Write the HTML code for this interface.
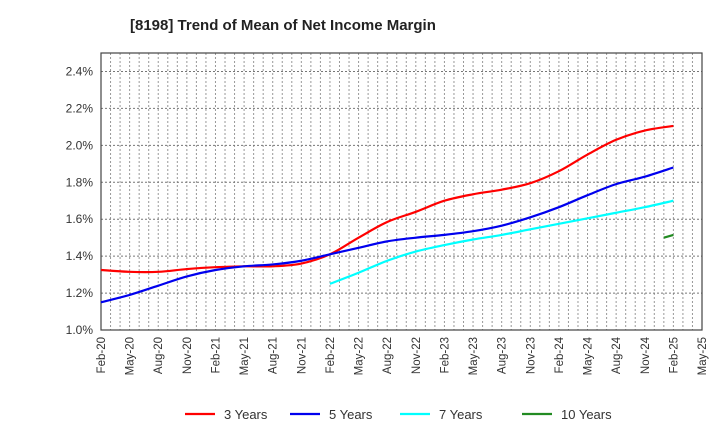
<!DOCTYPE html>
<html><head><meta charset="utf-8"><style>
body{margin:0;background:#fff;font-family:"Liberation Sans",sans-serif}
</style></head><body>
<svg id="c" width="720" height="440" xmlns="http://www.w3.org/2000/svg" font-family="Liberation Sans, sans-serif">
<text x="130" y="30" font-size="15" font-weight="bold" fill="#222">[8198]  Trend of Mean of Net Income Margin</text>
<g id="grid"></g><g id="axes"></g><g id="series"></g><g id="legend"></g>
</svg>
<script>
const xLabels=["Feb-20","May-20","Aug-20","Nov-20","Feb-21","May-21","Aug-21","Nov-21","Feb-22","May-22","Aug-22","Nov-22","Feb-23","May-23","Aug-23","Nov-23","Feb-24","May-24","Aug-24","Nov-24","Feb-25","May-25"];
const yTicks=[1.0,1.2,1.4,1.6,1.8,2.0,2.2,2.4];
const s3Months=[0,3,6,9,12,15,18,21,24,27,30,33,36,39,42,45,48,51,54,57,60];
const s3=[1.325,1.315,1.315,1.33,1.34,1.345,1.345,1.36,1.41,1.50,1.585,1.64,1.70,1.735,1.76,1.795,1.86,1.95,2.03,2.08,2.105];
const s5Months=[0,3,6,9,12,15,18,21,24,27,30,33,36,39,42,45,48,51,54,57,60];
const s5=[1.15,1.19,1.24,1.29,1.325,1.345,1.355,1.375,1.41,1.445,1.48,1.50,1.515,1.535,1.565,1.61,1.665,1.73,1.79,1.83,1.88];
const s7Months=[24,27,30,33,36,39,42,45,48,51,54,57,60];
const s7=[1.25,1.31,1.375,1.425,1.46,1.49,1.515,1.545,1.575,1.605,1.635,1.665,1.70];
const s10Months=[59,60];
const s10=[1.50,1.515];
const L=101,R=702,T=53,B=330,yMin=1.0,yMax=2.5;
const X=m=>L+m*(R-L)/63;
const Y=v=>B-(v-yMin)*(B-T)/(yMax-yMin);
const NS="http://www.w3.org/2000/svg";
function mk(tag,attrs,parent){const e=document.createElementNS(NS,tag);for(const k in attrs)e.setAttribute(k,attrs[k]);parent.appendChild(e);return e;}
const grid=document.getElementById('grid'),axes=document.getElementById('axes'),ser=document.getElementById('series'),leg=document.getElementById('legend');
for(let m=1;m<63;m++){const l=mk('line',{x1:X(m),x2:X(m),y1:T,y2:B,stroke:'#999','stroke-dasharray':'2,2','stroke-width':1},grid);

}
yTicks.forEach(v=>{if(v>yMin){const l=mk('line',{x1:L,x2:R,y1:Y(v),y2:Y(v),stroke:'#777','stroke-dasharray':'2,2','stroke-width':1},grid);

}
const t=mk('text',{x:93,y:Y(v)+4,'text-anchor':'end','font-size':12,fill:'#333'},axes);t.textContent=v.toFixed(1)+'%';

});
const fr=mk('rect',{x:L,y:T,width:R-L,height:B-T,fill:'none',stroke:'#444','stroke-width':1.2},axes);


xLabels.forEach((lab,i)=>{const x=X(i*3);const t=mk('text',{transform:`translate(${x+4},337) rotate(-90)`,'text-anchor':'end','font-size':11.5,fill:'#333'},axes);t.textContent=lab;

});
function path(ms,vs){const p=ms.map((m,i)=>[X(m),Y(vs[i])]);if(p.length<3)return 'M'+p.map(q=>q.join(',')).join('L');
let d='M'+p[0].join(',');for(let i=0;i<p.length-1;i++){const p0=p[Math.max(i-1,0)],p1=p[i],p2=p[i+1],p3=p[Math.min(i+2,p.length-1)];
const c1=[p1[0]+(p2[0]-p0[0])/6,p1[1]+(p2[1]-p0[1])/6],c2=[p2[0]-(p3[0]-p1[0])/6,p2[1]-(p3[1]-p1[1])/6];d+=`C${c1} ${c2} ${p2}`;}return d;}
[[s3Months,s3,'#ff0000','series-3-years'],[s5Months,s5,'#0000ee','series-5-years'],[s7Months,s7,'#00ffff','series-7-years'],[s10Months,s10,'#228b22','series-10-years']].forEach(([m,v,c,n])=>{
const e=mk('path',{d:path(m,v),fill:'none',stroke:c,'stroke-width':2.2},ser);

});
[['3 Years','#ff0000',185],['5 Years','#0000ee',290],['7 Years','#00ffff',400],['10 Years','#228b22',522]].forEach(([t,c,x])=>{
const l=mk('line',{x1:x,x2:x+30,y1:414,y2:414,stroke:c,'stroke-width':2.2},leg);


const tx=mk('text',{x:x+39,y:419,'font-size':13,fill:'#333'},leg);tx.textContent=t;

});
</script>
</body></html>
